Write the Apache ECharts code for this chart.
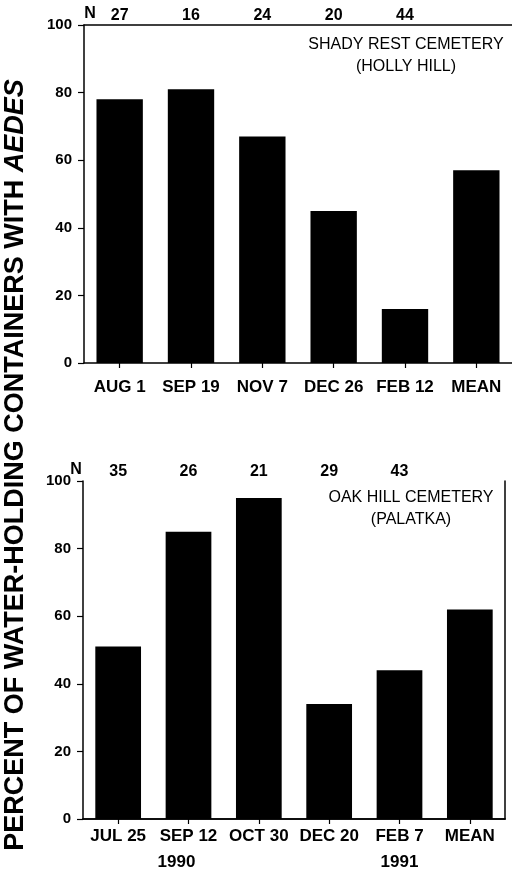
<!DOCTYPE html>
<html>
<head>
<meta charset="utf-8">
<script src="https://cdn.jsdelivr.net/npm/echarts@6/dist/echarts.min.js"></script>
<style>
html,body{margin:0;padding:0;background:#fff;}
#c{width:512px;height:877px;}
</style>
</head>
<body>
<div id="c"></div>
<script>
// ---- data ----
var topCategories = ['AUG 1', 'SEP 19', 'NOV 7', 'DEC 26', 'FEB 12', 'MEAN'];
var topValues = [78, 81, 67, 45, 16, 57];
var topN = ['27', '16', '24', '20', '44', ''];
var topTitle = ['SHADY REST CEMETERY', '(HOLLY HILL)'];

var bottomCategories = ['JUL 25', 'SEP 12', 'OCT 30', 'DEC 20', 'FEB 7', 'MEAN'];
var bottomValues = [51, 85, 95, 34, 44, 62];
var bottomN = ['35', '26', '21', '29', '43', ''];
var bottomYears = ['', '1990', '', '', '1991', ''];
var bottomTitle = ['OAK HILL CEMETERY', '(PALATKA)'];

var yTicks = [0, 20, 40, 60, 80, 100];
var yTitleMain = 'PERCENT OF WATER-HOLDING CONTAINERS WITH ';
var yTitleItalic = 'AEDES';

// ---- chart ----
var FONT = '"Liberation Sans", Arial, Helvetica, sans-serif';
var chart = echarts.init(document.getElementById('c'), null, {renderer: 'canvas'});

function catAxis(grid, data, extra) {
  var base = {
    gridIndex: grid, type: 'category', data: data, position: 'bottom',
    axisLine: {show: true, lineStyle: {color: '#000', width: 1.5}},
    axisTick: {show: true, alignWithLabel: true, interval: 0, length: 5, lineStyle: {color: '#000', width: 1.2}},
    axisLabel: {color: '#000', fontFamily: FONT, fontWeight: 'bold', fontSize: 17, margin: 16, interval: 0, hideOverlap: false},
    splitLine: {show: false}
  };
  return Object.assign(base, extra || {});
}
function nAxis(grid, data) {
  return {
    gridIndex: grid, type: 'category', data: data, position: 'top',
    axisLine: {show: true, lineStyle: {color: '#000', width: 1.5}},
    axisTick: {show: false},
    axisLabel: {color: '#000', fontFamily: FONT, fontWeight: 'bold', fontSize: 16, margin: 1, interval: 0},
    splitLine: {show: false}
  };
}
function valAxis(grid) {
  return {
    gridIndex: grid, type: 'value', min: yTicks[0], max: yTicks[yTicks.length - 1],
    interval: yTicks[1] - yTicks[0],
    axisLine: {show: true, lineStyle: {color: '#000', width: 1.5}},
    axisTick: {show: true, length: 6, lineStyle: {color: '#000', width: 1.2}},
    axisLabel: {color: '#000', fontFamily: FONT, fontWeight: 'bold', fontSize: 15, margin: 12},
    splitLine: {show: false}
  };
}

var option = {
  backgroundColor: '#fff',
  animation: false,
  grid: [
    {left: 84, top: 25, width: 432, height: 338},
    {left: 83, top: 481, width: 422, height: 338}
  ],
  xAxis: [
    catAxis(0, topCategories),
    nAxis(0, topN),
    catAxis(1, bottomCategories, {
      axisLabel: {
        color: '#000', fontFamily: FONT, fontWeight: 'bold', fontSize: 17, margin: 4, lineHeight: 26,
        interval: 0, hideOverlap: false,
        formatter: function (v, i) {
          var y = bottomYears[i];
          if (!y) return v;
          return v + '\n{' + (i === 1 ? 'yl' : 'y') + '|' + y + '}';
        },
        rich: {
          y: {fontFamily: FONT, fontWeight: 'bold', fontSize: 17, lineHeight: 26, color: '#000'},
          yl: {fontFamily: FONT, fontWeight: 'bold', fontSize: 17, lineHeight: 26, color: '#000', padding: [0, 24, 0, 0]}
        }
      }
    }),
    nAxis(1, bottomN)
  ],
  yAxis: [
    valAxis(0),
    valAxis(1),
    {
      gridIndex: 1, type: 'value', position: 'right', min: 0, max: 100,
      axisLine: {show: true, lineStyle: {color: '#000', width: 1.5}},
      axisTick: {show: false}, axisLabel: {show: false}, splitLine: {show: false}
    }
  ],
  series: [
    {type: 'bar', xAxisIndex: 0, yAxisIndex: 0, data: topValues, barWidth: '65%',
      itemStyle: {color: '#000'}},
    {type: 'bar', xAxisIndex: 2, yAxisIndex: 1, data: bottomValues, barWidth: '65%',
      itemStyle: {color: '#000'}}
  ],
  graphic: [
    {type: 'text', x: 90, y: 14, style: {text: 'N', fill: '#000', font: 'bold 16px ' + FONT, align: 'center', verticalAlign: 'middle'}},
    {type: 'text', x: 76, y: 470, style: {text: 'N', fill: '#000', font: 'bold 16px ' + FONT, align: 'center', verticalAlign: 'middle'}},
    {type: 'text', x: 406, y: 45, style: {text: topTitle[0], fill: '#000', font: '16px ' + FONT, align: 'center', verticalAlign: 'middle'}},
    {type: 'text', x: 406, y: 67, style: {text: topTitle[1], fill: '#000', font: '16px ' + FONT, align: 'center', verticalAlign: 'middle'}},
    {type: 'text', x: 411, y: 498, style: {text: bottomTitle[0], fill: '#000', font: '16px ' + FONT, align: 'center', verticalAlign: 'middle'}},
    {type: 'text', x: 411, y: 520, style: {text: bottomTitle[1], fill: '#000', font: '16px ' + FONT, align: 'center', verticalAlign: 'middle'}},
    {type: 'text', x: 16, y: 465, rotation: Math.PI / 2,
      style: {
        text: '{a|' + yTitleMain + '}{b|' + yTitleItalic + '}',
        align: 'center', verticalAlign: 'middle',
        rich: {
          a: {fontFamily: FONT, fontWeight: 'bold', fontSize: 27, fill: '#000', color: '#000'},
          b: {fontFamily: FONT, fontWeight: 'bold', fontStyle: 'italic', fontSize: 27, fill: '#000', color: '#000'}
        }
      }}
  ]
};
chart.setOption(option);
</script>
</body>
</html>
